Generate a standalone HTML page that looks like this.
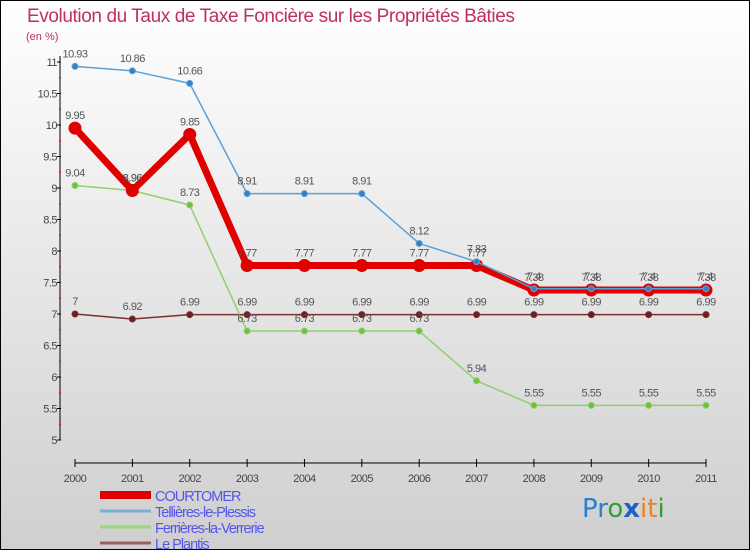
<!DOCTYPE html>
<html><head><meta charset="utf-8"><style>
body{margin:0;width:750px;height:550px;overflow:hidden;font-family:"Liberation Sans",sans-serif}
</style></head><body>
<svg id="c" width="750" height="550" xmlns="http://www.w3.org/2000/svg">
<defs><linearGradient id="bg" x1="0" y1="0" x2="0" y2="1"><stop offset="0" stop-color="#ffffff"/><stop offset="1" stop-color="#cfcfcf"/></linearGradient></defs>
<rect x="0.5" y="0.5" width="749" height="549" fill="url(#bg)" stroke="#000"/>
<text x="27" y="22" font-size="19" fill="#c0305a" letter-spacing="-0.4">Evolution du Taux de Taxe Foncière sur les Propriétés Bâties</text>
<text x="26" y="40" font-size="11" fill="#c0305a">(en %)</text>
<g id="axes"></g><g id="series"></g><g id="legend"></g>
<text x="582" y="517" font-size="26" font-family="'DejaVu Sans',sans-serif"><tspan fill="#2a7fd0">Pr</tspan><tspan fill="#30a030">o</tspan><tspan fill="#2060c0" font-weight="bold">x</tspan><tspan fill="#f08020">it</tspan><tspan fill="#30a030">i</tspan></text>
</svg>
<script>
const years=["2000","2001","2002","2003","2004","2005","2006","2007","2008","2009","2010","2011"];
const yTicks=[5,5.5,6,6.5,7,7.5,8,8.5,9,9.5,10,10.5,11];
const courtomer=[9.95,8.96,9.85,7.77,7.77,7.77,7.77,7.77,7.38,7.38,7.38,7.38];
const tellieres=[10.93,10.86,10.66,8.91,8.91,8.91,8.12,7.83,7.4,7.4,7.4,7.4];
const ferrieres=[9.04,8.96,8.73,6.73,6.73,6.73,6.73,5.94,5.55,5.55,5.55,5.55];
const plantis=[7,6.92,6.99,6.99,6.99,6.99,6.99,6.99,6.99,6.99,6.99,6.99];
const seriesNames=["COURTOMER","Tellières-le-Plessis","Ferrières-la-Verrerie","Le Plantis"];
const NS="http://www.w3.org/2000/svg";
const X=i=>75+i*(631/11), Y=v=>440-(v-5)*63;
function mk(p,t,a){const e=document.createElementNS(NS,t);for(const k in a)e.setAttribute(k,a[k]);p.appendChild(e);return e;}
const ax=document.getElementById('axes');
let l=mk(ax,'line',{x1:60,y1:56,x2:60,y2:440,stroke:'#000'});


l=mk(ax,'line',{x1:75,y1:463,x2:706,y2:463,stroke:'#000'});


yTicks.forEach(v=>{
 mk(ax,'line',{x1:57,y1:Y(v),x2:61,y2:Y(v),stroke:'#000'});
 if(v<11)mk(ax,'line',{x1:59,y1:Y(v+0.25),x2:61,y2:Y(v+0.25),stroke:'#e00'});
 const t=mk(ax,'text',{x:57,y:Y(v)+4,'font-size':11,'text-anchor':'end',fill:'#444','letter-spacing':'-0.5'});
 t.textContent=String(v);
 
 
});
years.forEach((y,i)=>{
 mk(ax,'line',{x1:X(i),y1:459,x2:X(i),y2:467,stroke:'#000'});
 const t=mk(ax,'text',{x:X(i),y:482,'font-size':11,'text-anchor':'middle',fill:'#444','letter-spacing':'-0.5'});
 t.textContent=y;
 
 
});
const sg=document.getElementById('series');
function draw(data,color,w,r,name,fill){
 const g=mk(sg,'g',{});
 
 
 mk(g,'polyline',{points:data.map((v,i)=>X(i)+','+Y(v)).join(' '),fill:'none',stroke:color,'stroke-width':w,'stroke-linejoin':'round'});
 data.forEach((v,i)=>{
  const c=mk(g,'circle',{cx:X(i),cy:Y(v),r:r,fill:fill,stroke:color,'stroke-width':1});
  
  
  const t=mk(g,'text',{x:X(i),y:Y(v)-9,'font-size':11,'text-anchor':'middle',fill:'#555','letter-spacing':'-0.5'});
  t.textContent=String(v);
  
  
 });
}
draw(plantis,'#7a3030',1.5,3,'le-plantis-series','#6a2020');
draw(ferrieres,'#90d070',1.5,3,'ferrieres-series','#70c040');
draw(courtomer,'#e00000',7,6,'courtomer-series','#e00000');
draw(tellieres,'#5aa0d8',1.5,3,'tellieres-series','#3a80c0');
const lg=document.getElementById('legend');
const lc=['#e00000','#7aaed8','#98d878','#9a6060'];
seriesNames.forEach((n,i)=>{
 const y=492+i*16;
 const g=mk(lg,'g',{});
 
 
 mk(g,'line',{x1:100,y1:y+3,x2:151,y2:y+3,stroke:lc[i],'stroke-width':i==0?8:3});
 const t=mk(g,'text',{x:155,y:y+9,'font-size':14.5,fill:'#5555ee','letter-spacing':'-1'});
 t.textContent=n;
});
</script>
</body></html>
